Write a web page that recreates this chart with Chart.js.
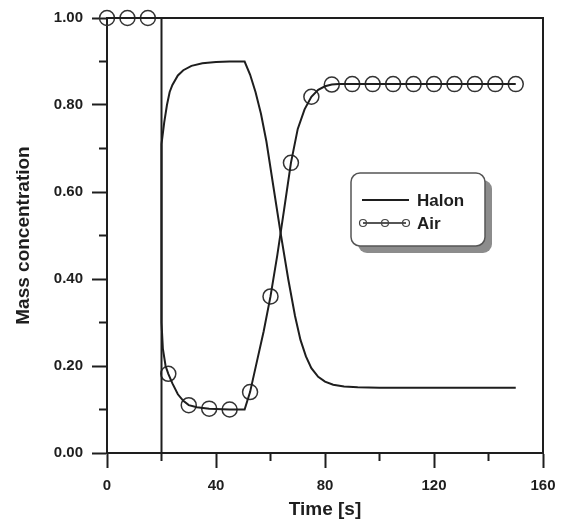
<!DOCTYPE html>
<html>
<head>
<meta charset="utf-8">
<script src="https://cdn.jsdelivr.net/npm/chart.js@4/dist/chart.umd.min.js"></script>
<style>
  html, body { margin: 0; padding: 0; background: #fff; }
  #wrap { width: 566px; height: 520px; }
</style>
</head>
<body>
<div id="wrap"><canvas id="myChart" width="566" height="520"></canvas></div>
<script>
// values
const halonTime = [0, 20, 20, 21, 22, 23, 24, 26, 28, 31, 35, 40, 45, 50.5, 52.5, 54.5, 56.5, 58.5, 61, 63.7, 66.5, 69, 71, 73, 75, 77.5, 80, 83, 87, 92, 100, 150];
const halonMass = [0, 0, 0.71, 0.76, 0.80, 0.83, 0.846, 0.868, 0.88, 0.89, 0.896, 0.899, 0.9, 0.9, 0.87, 0.83, 0.78, 0.716, 0.615, 0.506, 0.40, 0.315, 0.26, 0.222, 0.195, 0.175, 0.164, 0.157, 0.153, 0.151, 0.15, 0.15];

const airTime = [0, 20, 20, 20.5, 21.5, 22.5, 24, 26, 28, 30, 33, 37.5, 45, 50.5, 52.5, 55, 57.5, 60, 62.5, 65, 67.5, 70, 72.5, 75, 77.5, 80, 82.5, 85, 150];
const airMass = [1, 1, 0.30, 0.24, 0.20, 0.182, 0.16, 0.135, 0.12, 0.11, 0.105, 0.102, 0.10, 0.10, 0.14, 0.21, 0.28, 0.36, 0.455, 0.56, 0.667, 0.745, 0.79, 0.819, 0.835, 0.843, 0.847, 0.848, 0.848];

// circle markers on the Air curve
const markerTime = [0, 7.5, 15, 22.5, 30, 37.5, 45, 52.5, 60, 67.5, 75, 82.5, 90, 97.5, 105, 112.5, 120, 127.5, 135, 142.5, 150];
const markerMass = [1, 1, 1, 0.182, 0.11, 0.102, 0.10, 0.14, 0.36, 0.667, 0.819, 0.847, 0.848, 0.848, 0.848, 0.848, 0.848, 0.848, 0.848, 0.848, 0.848];

const xMinorTicks = [20, 60, 100, 140];
const yMinorTicks = [0.1, 0.3, 0.5, 0.7, 0.9];

const FONT = '"Liberation Sans", Arial, sans-serif';
const INK = '#1e1e1e';

const toPoints = (xs, ys) => xs.map((x, i) => ({ x: x, y: ys[i] }));

// box round the plot plus the short minor ticks
const framePlugin = {
  id: 'frame',
  afterDraw(chart) {
    const c = chart.ctx;
    const a = chart.chartArea;
    const xs = chart.scales.x;
    const ys = chart.scales.y;
    c.save();
    c.strokeStyle = INK;
    c.lineWidth = 2;
    c.beginPath();
    c.moveTo(a.left, a.top);
    c.lineTo(a.right, a.top);
    c.lineTo(a.right, a.bottom);
    c.stroke();
    c.beginPath();
    xMinorTicks.forEach(v => {
      const px = xs.getPixelForValue(v);
      c.moveTo(px, a.bottom);
      c.lineTo(px, a.bottom + 8);
    });
    yMinorTicks.forEach(v => {
      const py = ys.getPixelForValue(v);
      c.moveTo(a.left, py);
      c.lineTo(a.left - 8, py);
    });
    c.stroke();
    c.restore();
  }
};

// legend box with drop shadow
const legendPlugin = {
  id: 'boxLegend',
  afterDraw(chart) {
    const c = chart.ctx;
    const bx = 351, by = 173, bw = 134, bh = 73, r = 9;
    const rrect = (x, y, w, h) => {
      c.beginPath();
      c.moveTo(x + r, y);
      c.arcTo(x + w, y, x + w, y + h, r);
      c.arcTo(x + w, y + h, x, y + h, r);
      c.arcTo(x, y + h, x, y, r);
      c.arcTo(x, y, x + w, y, r);
      c.closePath();
    };
    c.save();
    rrect(bx + 7, by + 7, bw, bh);
    c.fillStyle = '#8c8c8c';
    c.fill();
    rrect(bx, by, bw, bh);
    c.fillStyle = '#fff';
    c.fill();
    c.strokeStyle = '#555';
    c.lineWidth = 1.5;
    c.stroke();

    c.strokeStyle = INK;
    c.lineWidth = 2;
    c.beginPath();
    c.moveTo(362, 200);
    c.lineTo(409, 200);
    c.stroke();

    c.lineWidth = 1.5;
    c.beginPath();
    c.moveTo(363, 223);
    c.lineTo(406, 223);
    c.stroke();
    [363, 385, 406].forEach(x => {
      c.beginPath();
      c.arc(x, 223, 3.5, 0, Math.PI * 2);
      c.strokeStyle = '#444';
      c.lineWidth = 1.2;
      c.stroke();
    });

    c.fillStyle = INK;
    c.font = 'bold 17px ' + FONT;
    c.textBaseline = 'middle';
    c.fillText('Halon', 417, 201);
    c.fillText('Air', 417, 224);
    c.restore();
  }
};

const ctx = document.getElementById('myChart');

new Chart(ctx, {
  type: 'scatter',
  data: {
    datasets: [
      {
        label: 'Halon',
        data: toPoints(halonTime, halonMass),
        showLine: true,
        borderColor: INK,
        borderWidth: 2,
        pointRadius: 0,
        tension: 0,
        clip: false
      },
      {
        label: 'Air',
        data: toPoints(airTime, airMass),
        showLine: true,
        borderColor: INK,
        borderWidth: 2,
        pointRadius: 0,
        tension: 0,
        clip: false
      },
      {
        label: 'Air markers',
        data: toPoints(markerTime, markerMass),
        showLine: false,
        pointStyle: 'circle',
        pointRadius: 7.5,
        pointBorderWidth: 1.5,
        pointBorderColor: '#333',
        pointBackgroundColor: 'rgba(0,0,0,0)',
        clip: false
      }
    ]
  },
  options: {
    responsive: false,
    animation: false,
    events: [],
    layout: { padding: { left: 0, top: 15, right: 23, bottom: 0 } },
    plugins: {
      legend: { display: false },
      tooltip: { enabled: false }
    },
    scales: {
      x: {
        type: 'linear',
        min: 0,
        max: 160,
        afterFit: s => { s.height = 67; },
        border: { display: true, color: INK, width: 2 },
        grid: { drawOnChartArea: false, drawTicks: true, tickLength: 15, tickWidth: 2, tickColor: INK },
        ticks: {
          stepSize: 40,
          padding: 9,
          color: INK,
          font: { family: FONT, size: 15, weight: 'bold' }
        },
        title: {
          display: true,
          text: 'Time [s]',
          color: INK,
          padding: 0,
          font: { family: FONT, size: 19, weight: 'bold', lineHeight: 1.1 }
        }
      },
      y: {
        min: 0,
        max: 1,
        afterFit: s => { s.width = 107; },
        border: { display: true, color: INK, width: 2 },
        grid: { drawOnChartArea: false, drawTicks: true, tickLength: 15, tickWidth: 2, tickColor: INK },
        ticks: {
          stepSize: 0.2,
          padding: 9,
          color: INK,
          font: { family: FONT, size: 15, weight: 'bold' },
          callback: v => v.toFixed(2)
        },
        title: {
          display: true,
          text: 'Mass concentration',
          color: INK,
          padding: { top: 12, bottom: 0 },
          font: { family: FONT, size: 19, weight: 'bold' }
        }
      }
    }
  },
  plugins: [framePlugin, legendPlugin]
});
</script>
</body>
</html>
